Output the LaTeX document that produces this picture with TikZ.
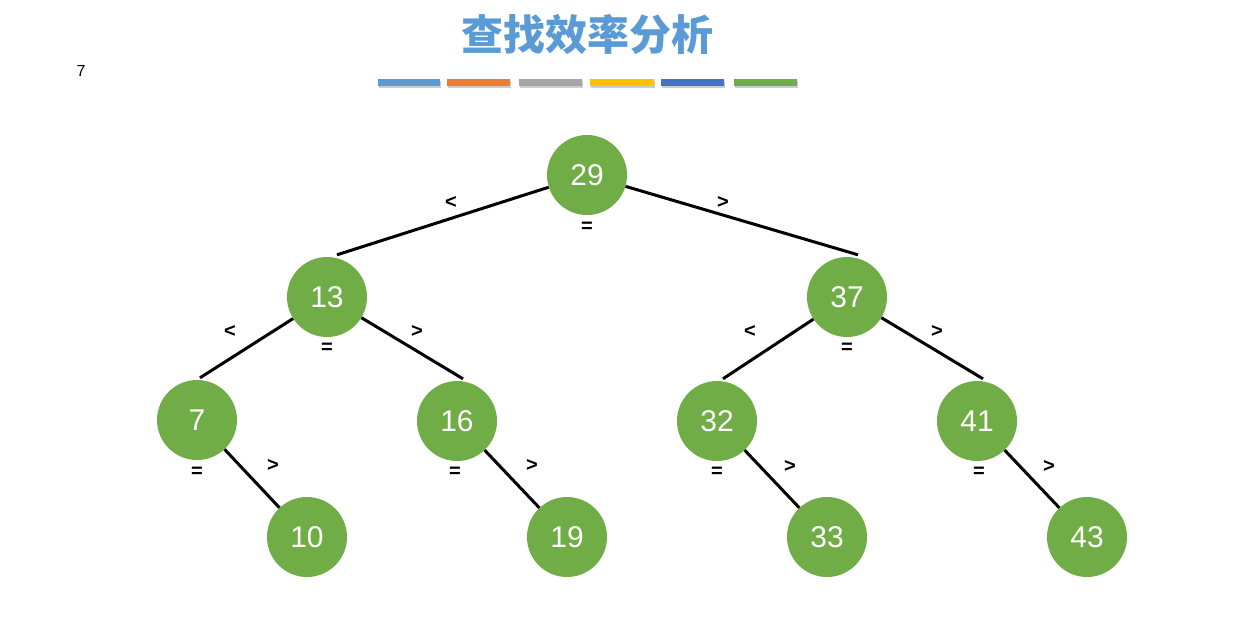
\documentclass[tikz,border=0pt]{standalone}
\usepackage{fontspec}
\setmainfont{Liberation Sans}
\newfontfamily\cjk{Noto Sans CJK SC}
\definecolor{keygreen}{HTML}{70AD47}
\definecolor{titleblue}{HTML}{5B9BD5}
\definecolor{barblue}{HTML}{5B9BD5}
\definecolor{barorange}{HTML}{ED7D31}
\definecolor{bargray}{HTML}{A5A5A5}
\definecolor{bargold}{HTML}{FFC000}
\definecolor{bardark}{HTML}{4472C4}
\definecolor{bargreen}{HTML}{70AD47}
\tikzset{
  key/.style={circle, fill=keygreen, minimum size=80pt, inner sep=0pt,
    text=white, font=\fontsize{30}{36}\selectfont},
  rel/.style={inner sep=0pt, font=\bfseries\fontsize{20}{24}\selectfont},
  branch/.style={line width=3pt}
}
\begin{document}
\begin{tikzpicture}[x=1pt,y=-1pt]
  \useasboundingbox[fill=white] (0,0) rectangle (1251,630);
  % Page number and title
  \node[font=\fontsize{16}{19}\selectfont] (page) at (81,71) {7};
  \node[text=titleblue, font=\cjk\bfseries\fontsize{42}{50}\selectfont] (title) at (587,35) {查找效率分析};
  % Colour bars
  \foreach \xa/\xb/\c in {378/440/barblue, 447/510/barorange, 519/582/bargray,
                          590/654/bargold, 661/724/bardark, 734/797/bargreen} {
    \fill[black!20] (\xa+1,81) rectangle (\xb+1,88);
    \fill[\c] (\xa,79) rectangle (\xb,86);
  }
  % Keys
  \node[key] (n29) at (587,175) {29};
  \node[key] (n13) at (327,297) {13};
  \node[key] (n37) at (847,297) {37};
  \node[key] (n7)  at (197,420) {7};
  \node[key] (n16) at (457,421) {16};
  \node[key] (n32) at (717,421) {32};
  \node[key] (n41) at (977,421) {41};
  \node[key] (n10) at (307,537) {10};
  \node[key] (n19) at (567,537) {19};
  \node[key] (n33) at (827,537) {33};
  \node[key] (n43) at (1087,537) {43};
  % Branches
  \draw[branch] (n29) -- ([xshift=10pt,yshift=2pt]n13.north);
  \draw[branch] (n29) -- ([xshift=11pt,yshift=2pt]n37.north);
  \draw[branch] (n13) -- ([xshift=3pt,yshift=2pt]n7.north);
  \draw[branch] (n13) -- ([xshift=6pt,yshift=2pt]n16.north);
  \draw[branch] (n37) -- ([xshift=6pt,yshift=2pt]n32.north);
  \draw[branch] (n37) -- ([xshift=6pt,yshift=2pt]n41.north);
  \draw[branch] (n7) -- (n10);
  \draw[branch] (n16) -- (n19);
  \draw[branch] (n32) -- (n33);
  \draw[branch] (n41) -- (n43);
  % Comparison marks
  \node[rel] (lt29) at (451,202) {<};
  \node[rel] (gt29) at (723,202) {>};
  \node[rel] (eq29) at (587,227) {=};
  \node[rel] (lt13) at (230,331) {<};
  \node[rel] (gt13) at (417,331) {>};
  \node[rel] (eq13) at (327,348) {=};
  \node[rel] (lt37) at (750,331) {<};
  \node[rel] (gt37) at (937,331) {>};
  \node[rel] (eq37) at (847,348) {=};
  \node[rel] (eq7)  at (197,472) {=};
  \node[rel] (gt7)  at (273,465) {>};
  \node[rel] (eq16) at (455,472) {=};
  \node[rel] (gt16) at (532,465) {>};
  \node[rel] (eq32) at (717,472) {=};
  \node[rel] (gt32) at (790,466) {>};
  \node[rel] (eq41) at (979,472) {=};
  \node[rel] (gt41) at (1049,466) {>};
\end{tikzpicture}
\end{document}
